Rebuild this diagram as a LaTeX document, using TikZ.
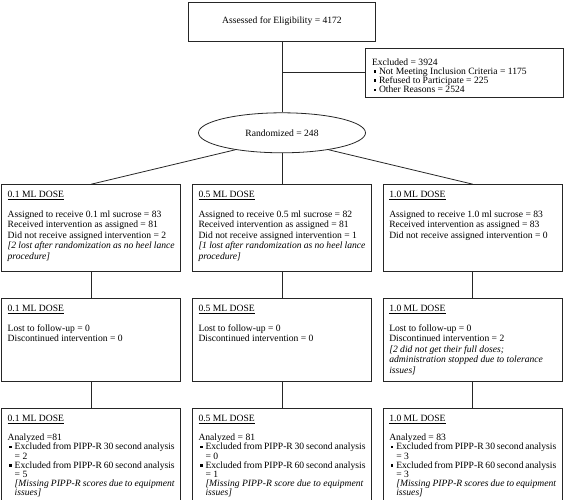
\documentclass[tikz,border=0pt]{standalone}
\usepackage{fontspec}
\setmainfont{Liberation Serif}
\usetikzlibrary{positioning,shapes.geometric}

\newcommand{\sqbul}{\hspace*{1.5pt}\makebox[5.5pt][l]{\rule[1.8pt]{2.6pt}{2.6pt}}}
\newcommand{\indt}{\hspace*{7pt}}
\newcommand{\boxtext}[2]{\parbox[c][#1][t]{167pt}{\vspace*{2pt}#2}}

\begin{document}
\begin{tikzpicture}[x=1pt, y=-1pt, node distance=11pt,
                    every node/.style={font=\fontsize{9.6}{10.5}\selectfont},
                    flowbox/.style={rectangle,draw=black!85,line width=0.8pt,inner xsep=6pt,inner ysep=5pt,align=left},
                    oval/.style={ellipse,draw=black!85,line width=0.8pt,minimum width=167pt,minimum height=40pt,inner sep=0pt},
                    link/.style={draw=black!85,line width=0.8pt}]
\useasboundingbox (0,0) rectangle (567,500);

\node[flowbox,align=center,minimum width=187pt,minimum height=39pt] (elig) at (282,21.5) {Assessed for Eligibility = 4172};
\node[oval] (rand) [below=71pt of elig] {Randomized = 248};
\node[flowbox,inner xsep=7pt] (excl) at (464,72.5) {\parbox[c][39pt][b]{184pt}{\fontsize{9.6}{9.1}\selectfont
  Excluded = 3924\\
  \sqbul Not Meeting Inclusion Criteria = 1175\\
  \sqbul Refused to Participate = 225\\
  \sqbul Other Reasons = 2524\vspace*{-1pt}}};

% allocation
\node[flowbox] (d2a) [below=31pt of rand] {\boxtext{77pt}{\underline{0.5 ML DOSE}\\[9pt]
  Assigned to receive 0.5 ml sucrose = 82\\
  Received intervention as assigned = 81\\
  Did not receive assigned intervention = 1\\
  \textit{[1 lost after randomization as no heel lance}\\
  \textit{procedure]}}};
\node[flowbox] (d1a) [left=of d2a] {\boxtext{77pt}{\underline{0.1 ML DOSE}\\[9pt]
  Assigned to receive 0.1 ml sucrose = 83\\
  Received intervention as assigned = 81\\
  Did not receive assigned intervention = 2\\
  \textit{[2 lost after randomization as no heel lance}\\
  \textit{procedure]}}};
\node[flowbox] (d3a) [right=of d2a] {\boxtext{77pt}{\underline{1.0 ML DOSE}\\[9pt]
  Assigned to receive 1.0 ml sucrose = 83\\
  Received intervention as assigned = 83\\
  Did not receive assigned intervention = 0}};

% follow-up
\node[flowbox] (d2f) [below=26pt of d2a] {\boxtext{73pt}{\underline{0.5 ML DOSE}\\[9pt]
  Lost to follow-up = 0\\
  Discontinued intervention = 0}};
\node[flowbox] (d1f) [left=of d2f] {\boxtext{73pt}{\underline{0.1 ML DOSE}\\[9pt]
  Lost to follow-up = 0\\
  Discontinued intervention = 0}};
\node[flowbox] (d3f) [right=of d2f] {\boxtext{73pt}{\underline{1.0 ML DOSE}\\[9pt]
  Lost to follow-up = 0\\
  Discontinued intervention = 2\\
  \textit{[2 did not get their full doses;}\\
  \textit{administration stopped due to tolerance}\\
  \textit{issues]}}};

% analysis
\node[flowbox] (d2n) [below=26pt of d2f] {\boxtext{82pt}{\fontsize{9.6}{9.2}\selectfont\underline{0.5 ML DOSE}\\[10pt]
  Analyzed = 81\\
  \sqbul Excluded from PIPP-R 30 second analysis\\
  \indt = 0\\
  \sqbul Excluded from PIPP-R 60 second analysis\\
  \indt = 1\\
  \indt\textit{[Missing PIPP-R score due to equipment}\\
  \indt\textit{issues]}}};
\node[flowbox] (d1n) [left=of d2n] {\boxtext{82pt}{\fontsize{9.6}{9.2}\selectfont\underline{0.1 ML DOSE}\\[10pt]
  Analyzed =81\\
  \sqbul Excluded from PIPP-R 30 second analysis\\
  \indt = 2\\
  \sqbul Excluded from PIPP-R 60 second analysis\\
  \indt = 5\\
  \indt\textit{[Missing PIPP-R scores due to equipment}\\
  \indt\textit{issues]}}};
\node[flowbox] (d3n) [right=of d2n] {\boxtext{82pt}{\fontsize{9.6}{9.2}\selectfont\underline{1.0 ML DOSE}\\[10pt]
  Analyzed = 83\\
  \sqbul Excluded from PIPP-R 30 second analysis\\
  \indt = 3\\
  \sqbul Excluded from PIPP-R 60 second analysis\\
  \indt = 3\\
  \indt\textit{[Missing PIPP-R scores due to equipment}\\
  \indt\textit{issues]}}};

\coordinate (split) at (elig.south |- excl.west);
\draw[link] (elig) -- (rand);
\draw[link] (split) -- (excl);
\draw[link] (rand.200) -- (d1a.north);
\draw[link] (rand) -- (d2a);
\draw[link] (rand.-20) -- (d3a.north);
\foreach \c in {1,2,3} {
  \draw[link] (d\c a) -- (d\c f);
  \draw[link] (d\c f) -- (d\c n);
}
\end{tikzpicture}
\end{document}
